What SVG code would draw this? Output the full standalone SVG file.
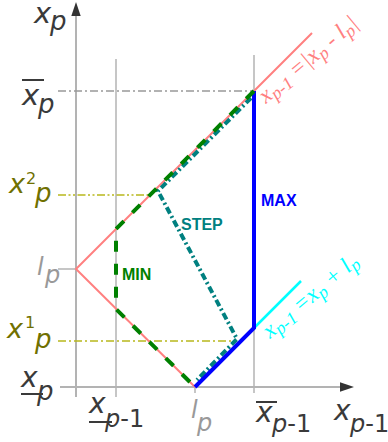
<svg xmlns="http://www.w3.org/2000/svg" width="388" height="442" viewBox="0 0 388 442">
<style>
.ax{stroke:#b3b3b3;stroke-width:2;fill:none}
.grid{stroke:#b3b3b3;stroke-width:1.5;fill:none}
.gdash{stroke:#999;stroke-width:1.3;fill:none;stroke-dasharray:8,3,2,3}
.odash{stroke:#b8b81c;stroke-width:1.3;fill:none;stroke-dasharray:8,3,2,3}
.odash2{stroke:#b8b81c;stroke-width:1.3;fill:none;stroke-dasharray:8,2.5,2,2.5,2,2.5}
.pink{stroke:#ff8080;stroke-width:2;fill:none}
.cyan{stroke:#00ffff;stroke-width:2.5;fill:none}
.max{stroke:#0000ff;stroke-width:4;fill:none}
.min{stroke:#008000;stroke-width:4;fill:none;stroke-dasharray:11,12}
.step{stroke:#008080;stroke-width:4;fill:none;stroke-dasharray:7,3,2,3}
.bar{stroke:#3a3a3a;stroke-width:2}
.lab{font-family:"DejaVu Sans",sans-serif;font-style:italic;fill:#3a3a3a}
.olive{fill:#707000}
.gray{fill:#999}
.up{font-style:normal}
.tag{font-family:"Liberation Sans",Arial,sans-serif;font-weight:bold;font-size:16px}
.eq{font-family:"Liberation Serif","Times New Roman",serif;font-style:italic;font-size:23px}
</style>
<g id="axes">
<line class="ax" x1="76" y1="397" x2="76" y2="14"/>
<polygon points="76,2 71.3,16 80.7,16" fill="#333"/>
<line class="ax" x1="60" y1="387" x2="342" y2="387"/>
<polygon points="354,387 340,382.3 340,391.7" fill="#333"/>
</g>
<g id="connectors">
<line class="grid" x1="116" y1="59" x2="116" y2="397"/>
<line class="grid" x1="254" y1="55" x2="254" y2="393"/>
<line class="grid" x1="195" y1="387" x2="195" y2="393"/>
<line class="grid" x1="58" y1="269" x2="76" y2="269"/>
<line class="gdash" x1="58" y1="91" x2="254" y2="91"/>
<line class="odash2" x1="58" y1="195" x2="150" y2="195"/>
<line class="odash" x1="58" y1="341" x2="237" y2="341"/>
<polyline class="pink" points="312,33 76,269 195,387"/>
<line class="cyan" x1="254" y1="328" x2="301" y2="281"/>
<polyline class="step" points="251,98 158,191 237,339 197,380"/>
<polyline class="max" points="195,387 254,328 254,91"/>
<polyline class="min" points="254,91 116,229 116,309 195,387"/>
</g>
<g id="label-xp-axis"><text class="lab"><tspan x="34" y="23" font-size="29">x</tspan><tspan x="50" y="30" font-size="26">p</tspan></text></g>
<g id="label-xbar-p"><line class="bar" x1="22" y1="80" x2="44" y2="80"/><text class="lab"><tspan x="22" y="105" font-size="29">x</tspan><tspan x="38" y="113" font-size="26">p</tspan></text></g>
<g id="label-x2p"><text class="lab olive"><tspan x="9" y="193" font-size="27">x</tspan><tspan class="up" x="26" y="184" font-size="16">2</tspan><tspan x="35" y="202" font-size="26">p</tspan></text></g>
<g id="label-lp-left"><text class="lab gray"><tspan x="37" y="275" font-size="24">l</tspan><tspan x="45" y="283" font-size="24">p</tspan></text></g>
<g id="label-x1p"><text class="lab olive"><tspan x="7" y="338" font-size="27">x</tspan><tspan class="up" x="25" y="328" font-size="16">1</tspan><tspan x="35" y="348" font-size="26">p</tspan></text></g>
<g id="label-xunder-p"><line class="bar" x1="21" y1="394" x2="43" y2="394"/><text class="lab"><tspan x="21" y="387" font-size="28">x</tspan><tspan x="37" y="400" font-size="26">p</tspan></text></g>
<g id="label-xunder-p1"><line class="bar" x1="89" y1="422" x2="112" y2="422"/><text class="lab"><tspan x="89" y="413" font-size="28">x</tspan><tspan x="105" y="427" font-size="24">p</tspan><tspan class="up" font-size="24">-1</tspan></text></g>
<g id="label-lp-bottom"><text class="lab gray"><tspan x="191" y="418" font-size="24">l</tspan><tspan x="197" y="431" font-size="24">p</tspan></text></g>
<g id="label-xbar-p1"><line class="bar" x1="256" y1="402" x2="277" y2="402"/><text class="lab"><tspan x="256" y="422" font-size="28">x</tspan><tspan x="272" y="432" font-size="24">p</tspan><tspan class="up" font-size="24">-1</tspan></text></g>
<g id="label-xp1-axis"><text class="lab"><tspan x="334" y="420" font-size="28">x</tspan><tspan x="350" y="432" font-size="24">p</tspan><tspan class="up" font-size="24">-1</tspan></text></g>
<g id="label-min"><text class="tag" x="122" y="280" fill="#008000">MIN</text></g>
<g id="label-step"><text class="tag" x="181" y="230" fill="#008080">STEP</text></g>
<g id="label-max"><text class="tag" x="261" y="206" fill="#0000ff">MAX</text></g>
<g id="label-eq-pink"><text class="eq" fill="#ff8080" transform="translate(266,104) rotate(-40)">x<tspan dy="4" font-size="18">p-1</tspan><tspan dy="-4"> =|x</tspan><tspan dy="4" font-size="18">p</tspan><tspan dy="-4"> - l</tspan><tspan dy="4" font-size="18">p</tspan><tspan dy="-4">|</tspan></text></g>
<g id="label-eq-cyan"><text class="eq" fill="#00ffff" transform="translate(270,339) rotate(-40)">x<tspan dy="4" font-size="18">p-1</tspan><tspan dy="-4"> =x</tspan><tspan dy="4" font-size="18">p</tspan><tspan dy="-4"> + l</tspan><tspan dy="4" font-size="18">p</tspan></text></g>
</svg>
